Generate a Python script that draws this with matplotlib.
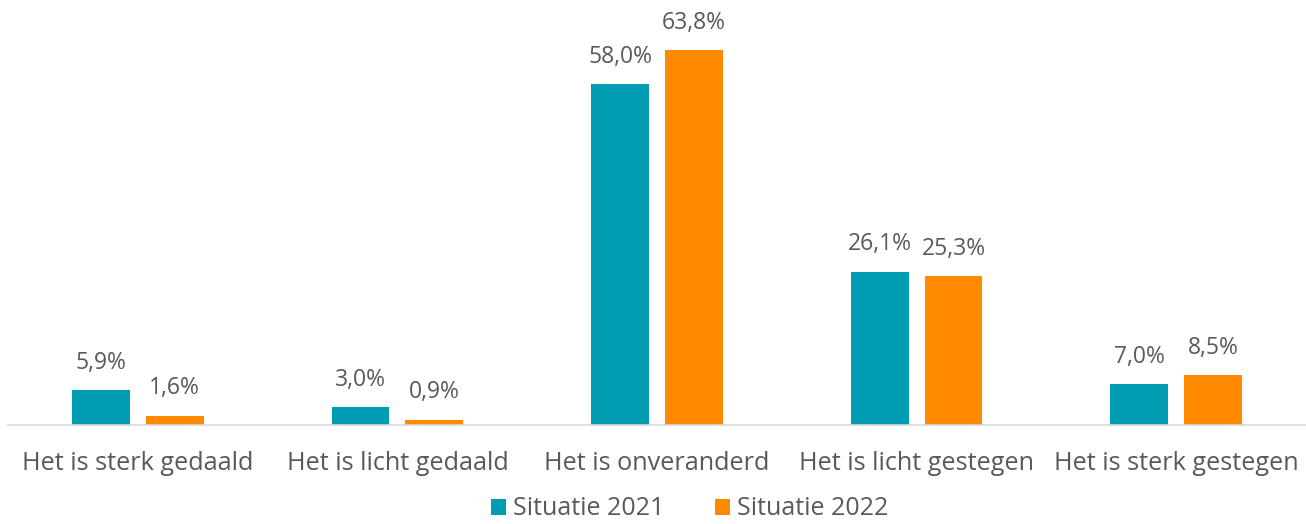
import matplotlib.pyplot as plt
import numpy as np

plt.rcParams["font.family"] = ["Open Sans", "DejaVu Sans"]

categories = [
    "Het is sterk gedaald",
    "Het is licht gedaald",
    "Het is onveranderd",
    "Het is licht gestegen",
    "Het is sterk gestegen",
]
series_names = ["Situatie 2021", "Situatie 2022"]
values_2021 = [5.9, 3.0, 58.0, 26.1, 7.0]
values_2022 = [1.6, 0.9, 63.8, 25.3, 8.5]

colors = ["#009CB2", "#FF8A00"]
text_color = "#595959"

fig = plt.figure(figsize=(13.06, 5.24), dpi=100)
ax = fig.add_axes([8 / 1306, 99 / 524, 1298 / 1306, 411 / 524])

x = np.arange(len(categories))
bar_width = 0.223
offset = 0.142

for vals, sign, color, name in zip(
    [values_2021, values_2022], [-1, 1], colors, series_names
):
    bars = ax.bar(x + sign * offset, vals, width=bar_width, color=color, label=name)
    for b, v in zip(bars, vals):
        ax.annotate(
            f"{v:.1f}%".replace(".", ","),
            (b.get_x() + b.get_width() / 2, v),
            xytext=(0, 11),
            textcoords="offset points",
            ha="center",
            va="bottom",
            fontsize=16.5,
            color=text_color,
        )

ax.set_xlim(-0.5, 4.5)
ax.set_ylim(0, 70)
ax.set_xticks(x)
ax.set_xticklabels(categories, fontsize=18.2, color=text_color)
ax.tick_params(axis="x", length=0, pad=18.5)
ax.set_yticks([])
for s in ["top", "right", "left"]:
    ax.spines[s].set_visible(False)
ax.spines["bottom"].set_color("#D9D9D9")
ax.spines["bottom"].set_linewidth(1.2)

leg = fig.legend(
    loc="lower center",
    bbox_to_anchor=(0.528, -0.038),
    ncol=2,
    frameon=False,
    fontsize=18,
    handlelength=0.6,
    handleheight=0.6,
    handletextpad=0.3,
    columnspacing=2.0,
)
for t in leg.get_texts():
    t.set_color(text_color)

fig.savefig("out.png", dpi=100)
